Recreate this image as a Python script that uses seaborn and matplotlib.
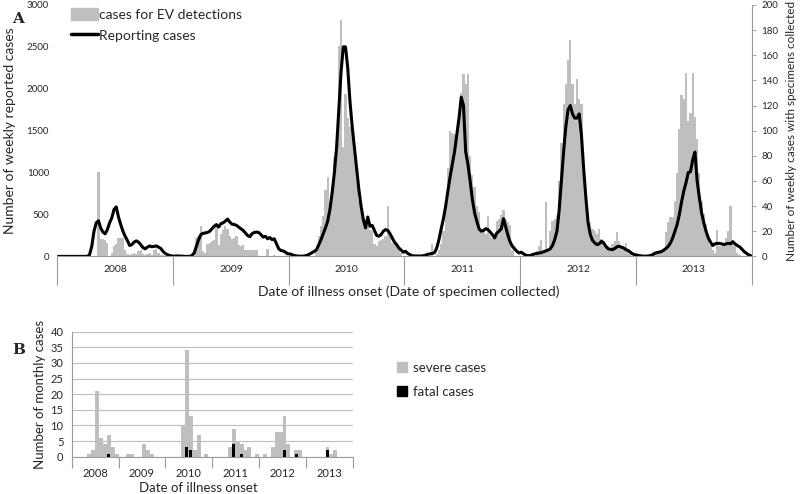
import numpy as np
import pandas as pd
import seaborn as sns
from matplotlib import pyplot as plt
from matplotlib.patches import Patch
from matplotlib.lines import Line2D

years = ['2008', '2009', '2010', '2011', '2012', '2013']

# weekly reported cases (left axis)
rep_2008 = [0, 0, 0, 0, 0, 0, 0, 0, 0, 0, 0, 0, 0, 0,
            20, 120, 300, 400, 425, 340, 290, 270, 320, 400, 460, 560, 590, 470, 380, 300,
            240, 190, 130, 140, 170, 185, 170, 140, 105, 90, 110, 125, 115, 120, 125, 110,
            95, 60, 35, 20, 10, 5]
rep_2009 = [3, 5, 5, 3, 0, 0, 0, 0, 10, 40, 120, 200, 260, 275, 280, 285, 300, 330, 360, 380,
            350, 390, 400, 420, 445, 410, 385, 380, 370, 350, 330, 310, 280, 250, 235, 270,
            285, 290, 285, 260, 230, 240, 210, 225, 200, 210, 150, 90, 70, 65, 50, 30]
rep_2010 = [30, 20, 10, 5, 3, 2, 3, 8, 15, 30, 45, 60, 80, 140, 200, 270, 340, 420, 560, 760,
            1000, 1300, 1750, 2200, 2500, 2500, 2250, 1850, 1550, 1300, 1050, 800, 600, 440,
            340, 470, 360, 370, 310, 250, 240, 260, 300, 320, 310, 270, 220, 170, 140, 100, 75, 50]
rep_2011 = [60, 35, 20, 8, 5, 5, 5, 5, 8, 15, 25, 30, 35, 45, 100, 200, 330, 450, 600, 780,
            950, 1100, 1250, 1450, 1650, 1900, 1800, 1250, 1100, 900, 680, 520, 420, 330, 300,
            310, 330, 320, 290, 260, 220, 280, 300, 330, 450, 350, 250, 170, 120, 90, 60, 40]
rep_2012 = [50, 30, 15, 8, 10, 20, 30, 35, 40, 45, 55, 65, 75, 90, 130, 200, 300, 550, 900, 1250,
            1550, 1750, 1800, 1700, 1650, 1650, 1700, 1450, 1050, 700, 400, 260, 190, 160, 140,
            150, 180, 160, 120, 90, 85, 80, 95, 115, 120, 110, 100, 80, 70, 50, 30, 20]
rep_2013 = [15, 8, 5, 3, 3, 5, 10, 20, 38, 45, 50, 58, 75, 95, 120, 160, 220, 300, 380, 500,
            650, 780, 880, 1000, 1010, 1150, 1245, 900, 700, 520, 400, 300, 220, 170, 130, 150,
            155, 155, 150, 140, 150, 155, 150, 175, 150, 130, 115, 90, 60, 40, 20, 10]

# weekly cases with specimens collected, EV detections (right axis)
ev_2008 = [0] * 18 + [67, 14, 14, 13, 11, 0, 3, 8, 10, 15, 15, 15, 5, 2, 1, 2, 3, 2, 4, 5,
                      2, 1, 2, 3, 1, 5, 6, 3, 1, 1, 0, 0, 0, 0]
ev_2009 = [0] * 10 + [15, 16, 24, 4, 3, 10, 11, 12, 13, 26, 9, 18, 21, 24, 22, 16, 14, 15, 16, 9,
                      8, 9, 5, 5, 5, 5, 5, 5, 0, 0, 0, 0, 6, 0, 0, 1, 0, 0, 0, 0, 0, 0]
ev_2010 = [0] * 12 + [6, 16, 24, 32, 53, 63, 36, 48, 79, 87, 167, 188, 87, 129, 110, 103, 100, 84,
                      60, 44, 38, 29, 27, 24, 21, 20, 10, 8, 12, 13, 14, 16, 40, 16, 11, 10, 8, 5, 3, 0]
ev_2011 = [0] * 12 + [10, 0, 2, 5, 10, 20, 40, 70, 100, 98, 97, 100, 113, 130, 145, 137, 145, 80,
                      65, 55, 40, 35, 22, 20, 18, 32, 17, 15, 14, 28, 30, 33, 37, 30, 27, 25, 5, 0, 0, 0]
ev_2012 = [0] * 7 + [4, 8, 13, 3, 43, 5, 20, 28, 30, 33, 60, 90, 121, 137, 156, 172, 137, 121, 141,
                     125, 121, 71, 45, 31, 27, 22, 20, 18, 22, 14, 12, 9, 8, 6, 10, 12, 19, 12, 8, 6,
                     11, 4, 2, 0, 0]
ev_2013 = [0] * 8 + [2, 4, 5, 4, 6, 19, 27, 31, 31, 44, 66, 101, 128, 125, 146, 108, 114, 146, 111,
                     93, 66, 44, 34, 26, 13, 9, 5, 3, 21, 8, 8, 10, 15, 20, 40, 13, 8, 3, 1, 0,
                     0, 0, 0, 0]

# monthly severe / fatal cases
severe_2008 = [0, 0, 0, 0, 1, 2, 21, 6, 4, 7, 3, 1]
severe_2009 = [0, 0, 1, 1, 0, 0, 4, 2, 1, 0, 0, 0]
severe_2010 = [0, 0, 0, 0, 10, 34, 13, 2, 7, 0, 1, 0]
severe_2011 = [0, 0, 0, 0, 3, 9, 5, 4, 2, 3, 0, 1]
severe_2012 = [0, 1, 0, 3, 8, 8, 13, 4, 0, 2, 2, 0]
severe_2013 = [0, 0, 0, 0, 0, 3, 1, 2, 0, 0, 0, 0]
fatal_2008 = [0, 0, 0, 0, 0, 0, 0, 0, 0, 1, 0, 0]
fatal_2009 = [0, 0, 0, 0, 0, 0, 0, 0, 0, 0, 0, 0]
fatal_2010 = [0, 0, 0, 0, 0, 3, 2, 0, 0, 0, 0, 0]
fatal_2011 = [0, 0, 0, 0, 0, 4, 0, 1, 0, 0, 0, 0]
fatal_2012 = [0, 0, 0, 0, 0, 0, 2, 0, 0, 1, 0, 0]
fatal_2013 = [0, 0, 0, 0, 0, 2, 0, 0, 0, 0, 0, 0]

reported = rep_2008 + rep_2009 + rep_2010 + rep_2011 + rep_2012 + rep_2013
ev = ev_2008 + ev_2009 + ev_2010 + ev_2011 + ev_2012 + ev_2013
severe = severe_2008 + severe_2009 + severe_2010 + severe_2011 + severe_2012 + severe_2013
fatal = fatal_2008 + fatal_2009 + fatal_2010 + fatal_2011 + fatal_2012 + fatal_2013

weekly = pd.DataFrame({'week': np.arange(len(reported)), 'reported': reported, 'ev': ev})
monthly = pd.DataFrame({'month': np.arange(len(severe)), 'severe': severe, 'fatal': fatal})

sns.set_style('white')
plt.rcParams['font.family'] = ['Lato', 'DejaVu Sans']

grey = '#bfbfbf'
txt = '#262626'
axcol = '#9a9a9a'

fig = plt.figure(figsize=(8, 4.94), dpi=100)

# ---------- panel A ----------
axA = fig.add_axes([0.0716, 0.481, 0.868, 0.509])
axA2 = axA.twinx()
axA.set_zorder(axA2.get_zorder() + 1)
axA.patch.set_visible(False)

axA2.bar(weekly['week'], weekly['ev'], width=1.0, color=grey, linewidth=0)
sns.lineplot(data=weekly, x='week', y='reported', ax=axA, color='black', lw=2.2)

nw = len(rep_2008)
ntot = len(reported)
bounds = np.arange(0, ntot + 1, nw) - 0.5
mids = bounds[:-1] + nw / 2

axA.set_xlim(-0.5, ntot - 0.5)
axA.set_ylim(0, 3000)
axA2.set_ylim(0, 200)
axA.set_yticks(range(0, 3001, 500))
axA2.set_yticks(range(0, 201, 20))
axA.set_xticks(mids, years)
axA.set_xticks(np.arange(-0.5, ntot, 1), minor=True)
axA.tick_params(axis='x', which='major', length=0, pad=6, labelsize=7.5, labelcolor=txt)
axA.tick_params(axis='x', which='minor', length=2.5, width=0.5, color=axcol)
axA.tick_params(axis='y', length=0, labelsize=7, labelcolor=txt, pad=6)
axA2.tick_params(axis='y', length=3, width=0.6, color=axcol, labelsize=7, labelcolor=txt, pad=4)

secA = axA.secondary_xaxis('bottom')
secA.set_xticks(bounds, [''] * len(bounds))
secA.tick_params(length=21, width=0.8, color=axcol)
secA.spines['bottom'].set_visible(False)

for s in ['top', 'left', 'right']:
    axA.spines[s].set_visible(False)
for s in ['top', 'left', 'bottom']:
    axA2.spines[s].set_visible(False)
axA.spines['bottom'].set_color(axcol)
axA2.spines['right'].set_color(axcol)

axA.set_ylabel('Number of weekly reported cases', fontsize=10, color=txt)
axA.yaxis.set_label_coords(-0.059, 0.5)
axA2.set_ylabel('Number of weekly cases with specimens collected', fontsize=8.5, color=txt)
axA2.yaxis.set_label_coords(1.05, 0.5)
axA.set_xlabel('Date of illness onset (Date of specimen collected)', fontsize=10, color=txt)
axA.xaxis.set_label_coords(0.506, -0.115)

handlesA = [Patch(color=grey), Line2D([], [], color='black', lw=2.5)]
axA.legend(handlesA, ['cases for EV detections', 'Reporting cases'], loc='upper left',
           bbox_to_anchor=(0.012, 1.01), frameon=False, handlelength=1.9, handleheight=1.0,
           handletextpad=0.1, labelspacing=0.55, fontsize=10, labelcolor=txt, borderaxespad=0)

# ---------- panel B ----------
axB = fig.add_axes([0.0896, 0.0755, 0.3515, 0.253])
axB.bar(monthly['month'], monthly['severe'], width=1.0, color=grey, linewidth=0, label='severe cases')
axB.bar(monthly['month'], monthly['fatal'], width=0.8, color='black', linewidth=0, label='fatal cases')

nm = len(severe_2008)
nmt = len(severe)
mb = np.arange(0, nmt + 1, nm) - 0.5
mm = mb[:-1] + nm / 2

axB.set_xlim(-0.5, nmt - 0.5)
axB.set_ylim(0, 40)
axB.set_yticks(range(0, 41, 5))
axB.yaxis.grid(True, color='#bdbdbd', lw=0.8)
axB.set_axisbelow(True)
axB.set_xticks(mm, years)
axB.set_xticks(np.arange(-0.5, nmt, 1), minor=True)
axB.tick_params(axis='x', which='major', length=0, pad=8, labelsize=8, labelcolor=txt)
axB.tick_params(axis='x', which='minor', length=3, width=0.6, color=axcol)
axB.tick_params(axis='y', length=3, width=0.6, color=axcol, labelsize=8, labelcolor=txt, pad=3)

secB = axB.secondary_xaxis('bottom')
secB.set_xticks(mb, [''] * len(mb))
secB.tick_params(length=8, width=0.8, color=axcol)
secB.spines['bottom'].set_visible(False)

for s in ['top', 'right']:
    axB.spines[s].set_visible(False)
axB.spines['left'].set_color(axcol)
axB.spines['bottom'].set_color(axcol)

axB.set_ylabel('Number of monthly cases', fontsize=9.5, color=txt)
axB.yaxis.set_label_coords(-0.09, 0.5)
axB.set_xlabel('Date of illness onset', fontsize=9.5, color=txt)
axB.xaxis.set_label_coords(0.45, -0.2)

fig.legend(handles=[Patch(color=grey), Patch(color='black')], labels=['severe cases', 'fatal cases'],
           loc='upper left', bbox_to_anchor=(0.482, 0.292), frameon=False, handlelength=0.7,
           handleheight=0.7, handletextpad=0.5, labelspacing=0.9, fontsize=9.5, labelcolor=txt)

fig.text(0.015, 0.975, 'A', family='DejaVu Serif', weight='bold', fontsize=11, va='top')
fig.text(0.015, 0.305, 'B', family='DejaVu Serif', weight='bold', fontsize=11, va='top')

fig.savefig('out.png', dpi=100)
